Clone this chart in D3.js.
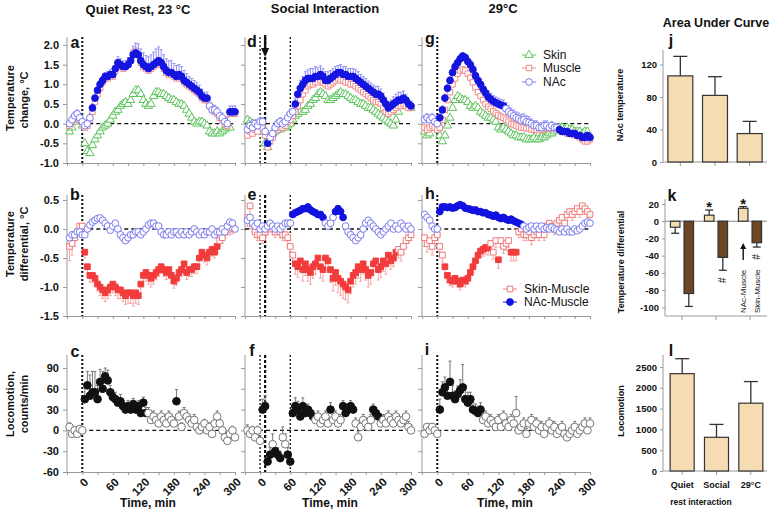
<!DOCTYPE html>
<html><head><meta charset="utf-8">
<script src="https://cdn.jsdelivr.net/npm/d3@7"></script>
<style>body{margin:0;background:#fff}</style>
</head><body>
<script>
// ---------------- DATA ----------------
const times = [-25,-20,-15,-10,-5,0,5,10,15,20,
  25,30,35,40,45,50,55,60,65,70,
  75,80,85,90,95,100,105,110,115,120,
  125,130,135,140,145,150,155,160,165,170,
  175,180,185,190,195,200,205,210,215,220,
  225,230,235,240,245,250,255,260,265,270,
  275,280,285,290,295,300];
const timeTicks = [-30,0,30,60,90,120,150,180,210,240,270,300];
const timeLabels = [0,60,120,180,240,300];

// Panel a (Quiet rest) temperature change
const aSkin = [-0.2,-0.1,0.05,0.2,0.1,-0.05,-0.5,-0.7,-0.75,-0.55,
  -0.4,-0.3,-0.2,-0.1,-0.05,0.0,0.1,0.2,0.3,0.35,
  0.45,0.5,0.55,0.5,0.6,0.75,0.85,0.85,0.75,0.6,
  0.5,0.45,0.5,0.7,0.8,0.8,0.75,0.75,0.7,0.65,
  0.6,0.6,0.55,0.5,0.5,0.45,0.35,0.25,0.15,0.05,
  0.0,0.05,0.05,0.0,-0.05,-0.2,-0.25,-0.25,-0.2,-0.25,
  -0.2,-0.15,-0.1,-0.1,null,null];
const aMuscle = [-0.05,0.05,0.15,0.2,0.1,0.0,-0.1,-0.05,0.1,0.3,
  0.55,0.75,0.9,1.05,1.15,1.15,1.2,1.2,1.35,1.5,
  1.45,1.4,1.45,1.5,1.6,1.8,1.85,1.75,1.55,1.45,
  1.4,1.35,1.4,1.45,1.5,1.55,1.5,1.4,1.3,1.25,
  1.25,1.2,1.15,1.2,1.15,1.05,1.0,0.95,0.9,0.85,
  0.8,0.75,0.65,0.6,0.6,0.45,0.35,0.3,0.25,0.15,
  0.1,0.0,-0.05,0.25,0.25,0.25];
const aNAc = [0.0,0.1,0.2,0.25,0.15,0.05,-0.05,0.0,0.15,0.4,
  0.65,0.85,1.0,1.1,1.2,1.2,1.25,1.25,1.4,1.55,
  1.5,1.45,1.45,1.5,1.6,1.75,1.8,1.75,1.6,1.5,
  1.45,1.4,1.45,1.5,1.55,1.6,1.55,1.45,1.35,1.3,
  1.3,1.25,1.2,1.25,1.2,1.1,1.05,1.0,0.95,0.9,
  0.85,0.8,0.7,0.65,0.65,0.45,0.35,0.35,0.3,0.2,
  0.15,0.05,0.0,0.3,0.3,0.3];
const aNAcErr = [0.1,0.1,0.1,0.1,0.1,0.1,0.1,0.1,0.1,0.1,
  0.1,0.1,0.1,0.1,0.1,0.12,0.12,0.15,0.15,0.15,
  0.15,0.15,0.15,0.18,0.2,0.22,0.25,0.28,0.3,0.3,
  0.28,0.3,0.3,0.32,0.35,0.35,0.33,0.3,0.3,0.3,
  0.3,0.28,0.28,0.25,0.25,0.25,0.22,0.2,0.2,0.2,
  0.2,0.18,0.18,0.15,0.15,0.15,0.12,0.12,0.12,0.12,
  0.12,0.12,0.15,0.15,0.15,0.15];
const aNAcSig = [[20,245],[290,300]];

// Panel d (Social interaction) temperature change
const dSkin = [0.1,0.05,0.0,-0.05,0.0,0.05,-0.2,-0.5,-0.6,-0.35,
  -0.25,-0.2,-0.15,-0.15,-0.1,-0.1,-0.05,0.0,0.1,0.2,
  0.25,0.3,0.3,0.35,0.45,0.5,0.6,0.65,0.75,0.8,
  0.75,0.7,0.6,0.6,0.65,0.7,0.75,0.8,0.75,0.75,
  0.7,0.65,0.6,0.6,0.55,0.5,0.5,0.45,0.4,0.4,
  0.35,0.3,0.25,0.2,0.15,0.1,0.05,0.0,-0.05,0.1,
  0.3,0.45,0.5,0.55,0.45,0.4];
const dMuscle = [-0.3,-0.2,-0.25,-0.15,-0.2,-0.05,-0.1,-0.3,-0.6,-0.45,
  -0.35,-0.2,-0.15,-0.1,-0.1,-0.05,0.05,0.1,0.2,0.3,
  0.45,0.6,0.75,0.85,0.95,1.0,1.0,1.05,1.05,1.1,
  1.05,1.0,0.95,1.0,1.05,1.1,1.15,1.1,1.1,1.05,
  1.05,1.0,1.0,0.95,0.9,0.85,0.8,0.75,0.7,0.65,
  0.6,0.55,0.55,0.5,0.4,0.3,0.25,0.3,0.35,0.4,
  0.45,0.45,0.5,0.45,0.4,0.4];
const dNAc = [-0.15,-0.05,-0.1,0.0,-0.05,0.05,0.05,-0.2,-0.5,-0.35,
  -0.25,-0.1,0.0,0.05,0.0,0.05,0.15,0.25,0.3,0.5,
  0.75,0.9,1.0,1.1,1.15,1.15,1.15,1.2,1.2,1.25,
  1.2,1.1,1.1,1.15,1.2,1.25,1.3,1.3,1.25,1.25,
  1.2,1.2,1.2,1.15,1.1,1.05,1.0,0.95,0.9,0.85,
  0.8,0.75,0.75,0.7,0.6,0.5,0.4,0.45,0.5,0.55,
  0.6,0.6,0.65,0.6,0.5,0.45];
const dNAcErr = [0.12,0.12,0.12,0.1,0.1,0.1,0.1,0.12,0.12,0.12,
  0.12,0.12,0.1,0.1,0.1,0.1,0.12,0.12,0.15,0.15,
  0.18,0.2,0.2,0.22,0.22,0.25,0.25,0.25,0.22,0.22,
  0.2,0.22,0.22,0.2,0.2,0.2,0.18,0.2,0.2,0.2,
  0.2,0.2,0.2,0.22,0.22,0.2,0.2,0.2,0.18,0.18,
  0.18,0.2,0.2,0.18,0.18,0.15,0.15,0.15,0.18,0.2,
  0.2,0.2,0.18,0.15,0.12,0.12];
const dNAcSig = [[15,15],[70,300]];

// Panel g (29°C) temperature change
const gSkin = [-0.2,-0.3,-0.25,-0.05,-0.05,-0.1,-0.3,-0.45,-0.3,-0.05,
  0.15,0.4,0.6,0.7,0.65,0.6,0.6,0.55,0.45,0.4,
  0.45,0.4,0.3,0.25,0.2,0.15,0.15,0.1,0.05,-0.1,
  -0.15,-0.1,-0.15,-0.2,-0.25,-0.3,-0.3,-0.35,-0.35,-0.35,
  -0.4,-0.4,-0.4,-0.35,-0.4,-0.4,-0.35,-0.35,-0.3,-0.25,
  -0.25,-0.2,-0.15,-0.1,-0.1,-0.15,-0.1,-0.15,-0.15,-0.2,
  -0.2,-0.2,-0.25,-0.2,-0.2,null];
const gMuscle = [-0.1,-0.15,-0.1,-0.05,-0.1,-0.15,-0.1,0.1,0.35,0.6,
  0.8,1.0,1.15,1.27,1.35,1.38,1.35,1.27,1.17,1.05,
  0.92,0.8,0.7,0.6,0.5,0.43,0.38,0.32,0.27,0.22,
  0.18,0.15,0.1,0.05,0.0,-0.02,-0.05,-0.07,-0.1,-0.1,
  -0.12,-0.12,-0.15,-0.15,-0.15,-0.17,-0.15,-0.12,-0.1,-0.12,
  -0.1,-0.12,-0.15,-0.15,-0.2,-0.2,-0.25,-0.25,-0.25,-0.3,
  -0.3,-0.35,-0.4,-0.45,-0.45,-0.4];
const gNAc = [0.1,0.15,0.1,0.15,0.05,0.0,0.15,0.35,0.65,0.9,
  1.1,1.3,1.45,1.55,1.65,1.72,1.68,1.58,1.5,1.38,
  1.22,1.1,1.0,0.88,0.78,0.68,0.62,0.57,0.53,0.5,
  0.47,0.45,0.38,0.3,0.25,0.2,0.15,0.12,0.08,0.1,
  0.05,0.03,0.0,-0.05,-0.05,-0.1,-0.1,-0.05,-0.05,-0.1,
  -0.05,-0.1,-0.1,-0.15,-0.2,-0.2,-0.2,-0.25,-0.25,-0.25,
  -0.3,-0.3,-0.35,-0.35,-0.3,-0.35];
const gNAcErr = [0.1,0.1,0.1,0.1,0.1,0.1,0.1,0.1,0.1,0.1,
  0.1,0.1,0.1,0.1,0.08,0.08,0.08,0.1,0.1,0.1,
  0.1,0.12,0.12,0.12,0.12,0.15,0.15,0.15,0.15,0.15,
  0.15,0.15,0.15,0.15,0.15,0.15,0.15,0.15,0.15,0.15,
  0.15,0.15,0.12,0.12,0.12,0.12,0.12,0.12,0.12,0.1,
  0.1,0.1,0.1,0.08,0.08,0.08,0.08,0.08,0.08,0.08,
  0.08,0.08,0.08,0.08,0.08,0.08];
const gNAcSig = [[5,130],[240,300]];

// Panel b temperature differentials
const bSkinMuscle = [-0.3,-0.25,-0.15,-0.05,0.05,0.05,-0.4,-0.65,-0.8,-0.8,
  -0.85,-0.95,-1.0,-1.05,-1.1,-1.05,-1.0,-0.95,-1.0,-1.05,
  -1.05,-1.1,-1.15,-1.1,-1.1,-1.15,-1.1,-1.15,-0.95,-0.8,
  -0.75,-0.8,-0.85,-0.8,-0.75,-0.7,-0.65,-0.7,-0.75,-0.7,
  -0.8,-0.9,-0.85,-0.75,-0.7,-0.6,-0.75,-0.7,-0.7,-0.65,
  -0.65,-0.5,-0.4,-0.45,-0.5,-0.4,-0.35,-0.4,-0.3,-0.2,
  -0.15,-0.05,0.0,0.0,0.02,null];
const bSkinMuscleErr = [0.25,0.2,0.15,0.1,0.1,0.1,0.1,0.12,0.12,0.12,
  0.12,0.12,0.15,0.15,0.15,0.15,0.15,0.15,0.15,0.15,
  0.15,0.15,0.15,0.18,0.18,0.18,0.18,0.15,0.15,0.15,
  0.15,0.15,0.15,0.15,0.12,0.12,0.12,0.12,0.12,0.12,
  0.12,0.12,0.12,0.12,0.12,0.12,0.12,0.12,0.12,0.12,
  0.12,0.12,0.12,0.12,0.12,0.12,0.12,0.1,0.1,0.1,
  0.1,0.1,0.1,0.1,0.1,0];
const bNAcMuscle = [-0.15,-0.1,-0.1,-0.05,-0.05,-0.1,-0.1,0.0,0.07,0.12,
  0.15,0.18,0.19,0.15,0.1,0.05,-0.02,0.05,0.1,0.0,
  -0.1,-0.15,-0.2,-0.15,-0.1,-0.1,-0.05,-0.05,-0.1,-0.05,
  0.0,0.07,0.1,0.1,0.05,0.05,-0.05,-0.1,-0.1,-0.05,
  -0.1,-0.05,-0.05,-0.1,-0.05,-0.1,-0.05,-0.1,-0.05,0.0,
  -0.05,-0.1,-0.05,-0.1,-0.05,-0.05,0.0,-0.1,-0.05,-0.05,
  0.0,-0.05,0.05,0.12,0.1,0.0];
const bSkinMuscleSig = [[5,265]];
const bNAcMuscleSig = [];

// Panel e
const eSkinMuscle = [0.2,0.4,0.05,-0.05,-0.1,-0.1,-0.15,-0.05,0.0,0.05,
  0.0,-0.05,0.0,-0.05,-0.1,-0.1,-0.15,-0.3,-0.45,-0.6,
  -0.65,-0.55,-0.7,-0.6,-0.7,-0.75,-0.65,-0.6,-0.5,-0.65,
  -0.7,-0.5,-0.55,-0.7,-0.85,-0.75,-0.85,-0.9,-0.95,-1.0,
  -1.05,-0.9,-0.8,-0.75,-0.65,-0.7,-0.6,-0.7,-0.8,-0.75,
  -0.6,-0.55,-0.7,-0.65,-0.55,-0.6,-0.45,-0.55,-0.5,-0.4,
  -0.35,-0.4,-0.3,-0.2,-0.15,-0.1];
const eSkinMuscleErr = [0.15,0.15,0.1,0.1,0.1,0.1,0.1,0.1,0.1,0.1,
  0.1,0.1,0.1,0.1,0.1,0.1,0.12,0.15,0.15,0.18,
  0.18,0.18,0.2,0.2,0.2,0.2,0.2,0.18,0.18,0.2,
  0.2,0.2,0.2,0.22,0.22,0.22,0.25,0.25,0.25,0.22,
  0.22,0.22,0.2,0.2,0.2,0.2,0.18,0.18,0.2,0.2,
  0.2,0.18,0.18,0.18,0.18,0.18,0.15,0.15,0.15,0.15,
  0.15,0.15,0.12,0.12,0.1,0.1];
const eNAcMuscle = [0.15,0.2,0.1,0.05,0.1,0.0,0.05,0.0,0.05,0.1,
  0.05,0.0,0.05,0.0,0.05,0.1,0.1,0.1,0.25,0.28,
  0.3,0.32,0.35,0.35,0.38,0.33,0.3,0.28,0.25,0.25,
  0.2,0.1,0.05,0.1,0.2,0.3,0.35,0.3,0.2,0.05,
  -0.05,-0.1,-0.15,-0.2,-0.15,-0.1,0.0,0.1,0.15,0.1,
  0.05,0.0,-0.05,-0.1,-0.05,0.0,0.05,0.1,0.0,0.05,
  0.0,0.1,0.05,0.0,0.05,0.0];
const eSkinMuscleSig = [[70,270]];
const eNAcMuscleSig = [[65,125],[150,165]];

// Panel h
const hSkinMuscle = [-0.15,-0.25,-0.2,-0.3,-0.15,-0.1,-0.3,-0.45,-0.65,-0.8,
  -0.88,-0.9,-0.85,-0.9,-0.95,-0.88,-0.9,-0.85,-0.75,-0.65,
  -0.55,-0.45,-0.38,-0.35,-0.32,-0.33,-0.25,-0.4,-0.2,-0.53,
  -0.2,-0.3,-0.25,-0.2,-0.4,-0.4,-0.4,-0.05,0.0,-0.1,
  -0.1,-0.05,-0.15,-0.1,-0.05,-0.1,0.0,-0.1,0.05,0.1,
  0.05,0.0,0.1,0.15,0.2,0.1,0.25,0.3,0.25,0.3,
  0.35,0.3,0.4,0.35,0.3,0.25];
const hSkinMuscleErr = [0.15,0.15,0.15,0.15,0.15,0.1,0.1,0.12,0.12,0.12,
  0.1,0.1,0.1,0.1,0.1,0.1,0.1,0.1,0.1,0.1,
  0.1,0.12,0.12,0.12,0.12,0.12,0.12,0.12,0.12,0.15,
  0.12,0.12,0.12,0.12,0.15,0.15,0.15,0.1,0.1,0.1,
  0.1,0.1,0.12,0.1,0.1,0.1,0.1,0.1,0.1,0.1,
  0.1,0.1,0.1,0.1,0.1,0.1,0.1,0.1,0.1,0.1,
  0.1,0.1,0.1,0.1,0.1,0.1];
const hNAcMuscle = [0.25,0.2,0.15,0.05,0.0,0.0,0.3,0.38,0.38,0.37,
  0.38,0.36,0.37,0.4,0.42,0.4,0.36,0.35,0.34,0.32,
  0.33,0.3,0.3,0.28,0.28,0.25,0.24,0.22,0.24,0.2,
  0.18,0.2,0.17,0.15,0.17,0.14,0.12,0.1,0.08,0.05,
  0.0,0.03,0.05,0.0,0.05,0.0,0.05,0.0,0.02,0.0,
  0.03,0.0,-0.02,-0.05,0.0,-0.05,0.0,-0.05,-0.05,0.0,
  -0.03,0.0,0.05,0.1,0.12,0.1];
const hSkinMuscleSig = [[15,100],[120,120],[145,155]];
const hNAcMuscleSig = [[5,165]];

// Locomotion (counts/min)
const cLoco = [5,-5,0,-5,2,0,45,65,50,55,
  55,45,70,60,78,72,55,48,45,40,
  42,35,30,35,30,38,30,35,25,40,
  25,25,15,20,15,10,20,15,10,20,
  15,10,42,20,5,25,20,15,10,15,
  5,0,5,10,0,5,-5,10,20,10,
  0,-10,-15,-5,0,-10];
const cLocoErr = [6,5,5,5,5,5,20,20,30,30,
  30,20,18,25,12,15,10,10,10,8,
  10,8,8,8,8,8,8,8,8,8,
  8,8,8,8,8,8,8,8,8,8,
  8,8,17,8,6,8,8,8,8,8,
  6,6,6,6,6,6,6,6,8,6,
  6,6,6,6,6,6];
const cLocoSig = [[5,125],[185,185]];

const fLoco = [0,-5,0,-10,0,-15,30,35,-45,-35,
  -20,-30,-35,-40,-10,-20,-35,-45,25,35,
  30,20,35,25,30,25,20,15,20,10,
  15,20,10,30,15,20,10,15,35,25,
  30,35,30,10,-10,5,15,10,5,15,
  30,25,20,10,15,10,20,15,10,20,
  15,10,15,20,5,0];
const fLocoErr = [8,6,6,6,6,8,15,15,10,10,
  15,10,10,10,15,15,10,10,10,12,
  12,10,12,8,8,8,8,8,8,8,
  8,8,8,10,8,8,8,8,8,8,
  8,8,8,8,8,8,8,8,8,8,
  8,8,8,8,8,8,8,8,8,8,
  8,8,8,8,8,8];
const fLocoSig = [[5,20],[30,40],[55,105],[140,140],[165,185],[225,235]];

const iLoco = [-5,5,0,5,0,-5,30,55,62,50,
  70,50,45,52,58,62,45,40,45,30,
  28,25,30,15,20,10,15,10,5,15,
  5,20,10,5,15,10,25,0,5,10,
  -5,10,15,5,10,0,5,-5,5,10,
  0,5,-5,0,5,-5,-10,-5,0,5,
  -5,0,5,10,0,10];
const iLocoErr = [5,5,5,5,5,5,15,15,15,12,
  30,15,12,12,15,33,20,15,10,10,
  10,10,10,8,8,8,8,8,8,8,
  8,8,8,8,8,8,24,8,8,8,
  8,8,8,10,8,8,8,8,8,8,
  8,8,8,8,8,8,8,8,8,8,
  8,8,8,8,8,8];
const iLocoSig = [[5,85]];

// Area under curve bar panels
const barCats = ["Quiet","Social","29°C"];
const aucNAc = [106, 82, 35];
const aucNAcSem = [24, 23, 15];
const diffNAcMuscle = [-7, 7, 15];
const diffNAcMuscleSem = [7, 6, 2];
const diffSkinMuscle = [-84, -42, -25];
const diffSkinMuscleSem = [15, 15, 5];
const aucLoco = [2340, 810, 1630];
const aucLocoSem = [360, 310, 520];

// ---------------- DRAWING ----------------
const FONT = '"Liberation Sans", Arial, sans-serif';
const AX = '#9a9a9a';
const svg = d3.select('body').append('svg').attr('width',770).attr('height',521)
  .style('font-family', FONT);

const colRanges = [[67,235],[245,411],[422,590]];
const xS = colRanges.map(r => d3.scaleLinear().domain([-30,300]).range(r));
const rows = [
  {y: d3.scaleLinear().domain([-1,2]).range([163,45]), top:37, ticks:[-1,-0.5,0,0.5,1,1.5,2], fmt:d=>d.toFixed(1)},
  {y: d3.scaleLinear().domain([-1.5,0.5]).range([316,200]), top:195, ticks:[-1.5,-1,-0.5,0,0.5], fmt:d=>d.toFixed(1)},
  {y: d3.scaleLinear().domain([-60,90]).range([472,368]), top:355, ticks:[-60,-30,0,30,60,90], fmt:d=>String(d)}
];

const inR = (t, rs) => rs.some(r => t >= r[0] && t <= r[1]);
const sym = (type, size) => d3.symbol().type(type).size(size)();

function drawAxes(c, r) {
  const x = xS[c], R = rows[r], y = R.y;
  const x0 = x.range()[0], yb = y.range()[0];
  const g = svg.append('g');
  const ay = g.append('g').attr('transform', `translate(${x0},0)`)
    .call(d3.axisLeft(y).tickValues(R.ticks).tickSize(4).tickPadding(4)
      .tickFormat(c === 0 ? R.fmt : () => ''));
  ay.select('.domain').remove();
  ay.attr('font-family', FONT).attr('font-size', 11);
  ay.selectAll('line').attr('stroke', AX);
  ay.selectAll('text').attr('font-weight', 'bold').attr('fill', '#111');
  g.append('line').attr('x1', x0).attr('x2', x0).attr('y1', R.top).attr('y2', yb).attr('stroke', AX);
  const ax = g.append('g').attr('transform', `translate(0,${yb})`)
    .call(d3.axisBottom(x).tickValues(timeTicks).tickSize(3).tickSizeOuter(0).tickFormat(''));
  ax.select('.domain').attr('stroke', AX);
  ax.selectAll('line').attr('stroke', AX);
  if (r === 2) {
    g.selectAll(null).data(timeLabels).join('text')
      .attr('transform', d => `translate(${x(d) + 4},${yb + 8}) rotate(-45)`)
      .attr('text-anchor', 'end').attr('dy', '0.35em')
      .attr('font-size', 11.5).attr('font-weight', 'bold').attr('fill', '#111')
      .text(d => d);
  }
}

function zeroLine(c, r, from) {
  const x = xS[c], y = rows[r].y;
  svg.append('line').attr('x1', x(from)).attr('x2', x(300)).attr('y1', y(0)).attr('y2', y(0))
    .attr('stroke', '#111').attr('stroke-width', 1.3).attr('stroke-dasharray', '4,3');
}
function vLine(c, r, t, w, dash) {
  const x = xS[c], R = rows[r];
  svg.append('line').attr('x1', x(t)).attr('x2', x(t)).attr('y1', R.top).attr('y2', R.y.range()[0])
    .attr('stroke', '#111').attr('stroke-width', w).attr('stroke-dasharray', dash);
}
function errBars(c, r, vals, errs, dir, color) {
  const x = xS[c], y = rows[r].y;
  const data = times.map((t, i) => ({t, v: vals[i], e: errs[i]})).filter(d => d.v != null && d.e);
  const g = svg.append('g').attr('stroke', color).attr('stroke-width', 1);
  g.selectAll(null).data(data).join('path')
    .attr('d', d => {
      const xx = x(d.t), y1 = y(d.v), y2 = y(d.v + dir * d.e);
      return `M${xx},${y1}V${y2}M${xx - 1.5},${y2}H${xx + 1.5}`;
    }).attr('fill', 'none');
}
function markers(c, r, vals, sig, st) {
  const x = xS[c], y = rows[r].y;
  const data = times.map((t, i) => ({t, v: vals[i]})).filter(d => d.v != null);
  svg.append('g').selectAll(null).data(data).join('path')
    .attr('transform', d => `translate(${x(d.t)},${y(d.v)})`)
    .attr('d', sym(st.type, st.size))
    .attr('fill', d => inR(d.t, sig) ? st.fillOn : st.fillOff)
    .attr('stroke', d => inR(d.t, sig) ? st.strokeOn : st.strokeOff)
    .attr('stroke-width', st.sw || 1);
}

const stSkin = {type: d3.symbolTriangle, size: 30, fillOn: '#fff', fillOff: '#fff', strokeOn: '#5cc45c', strokeOff: '#5cc45c'};
const stMuscle = {type: d3.symbolSquare, size: 30, fillOn: '#fff', fillOff: '#fff', strokeOn: '#f08a8a', strokeOff: '#f08a8a'};
const stNAc = {type: d3.symbolCircle, size: 36, fillOn: '#1515e0', fillOff: '#fff', strokeOn: '#1515e0', strokeOff: '#7b7bef'};
const stSM = {type: d3.symbolSquare, size: 32, fillOn: '#f23c3c', fillOff: '#fff', strokeOn: '#f23c3c', strokeOff: '#f07a7a'};
const stNM = {type: d3.symbolCircle, size: 36, fillOn: '#1212e0', fillOff: '#fff', strokeOn: '#1212e0', strokeOff: '#7b7bef'};
const stLoco = {type: d3.symbolCircle, size: 46, fillOn: '#111', fillOff: '#fff', strokeOn: '#111', strokeOff: '#777'};

for (let c = 0; c < 3; c++) for (let r = 0; r < 3; r++) drawAxes(c, r);

// zero lines
[0,1,2].forEach(r => { zeroLine(0, r, 0); zeroLine(1, r, -30); zeroLine(2, r, 0); });
// event lines
[0,1,2].forEach(r => {
  vLine(0, r, 0, 2, '2,2');
  vLine(1, r, 0, 1.3, '2,2');
  vLine(1, r, 10, 2.2, '3,2');
  vLine(1, r, 60, 1.3, '2,2');
  vLine(2, r, 0, 2, '2,2');
});

// Row 1: temperature change
const tempSets = [
  [aSkin, aMuscle, aNAc, aNAcErr, aNAcSig],
  [dSkin, dMuscle, dNAc, dNAcErr, dNAcSig],
  [gSkin, gMuscle, gNAc, gNAcErr, gNAcSig]
];
tempSets.forEach((s, c) => {
  markers(c, 0, s[0], [], stSkin);
  markers(c, 0, s[1], [], stMuscle);
  errBars(c, 0, s[2], s[3], 1, '#8f8ff5');
  markers(c, 0, s[2], s[4], stNAc);
});

// Row 2: differentials
const diffSets = [
  [bSkinMuscle, bSkinMuscleErr, bSkinMuscleSig, bNAcMuscle, bNAcMuscleSig],
  [eSkinMuscle, eSkinMuscleErr, eSkinMuscleSig, eNAcMuscle, eNAcMuscleSig],
  [hSkinMuscle, hSkinMuscleErr, hSkinMuscleSig, hNAcMuscle, hNAcMuscleSig]
];
diffSets.forEach((s, c) => {
  errBars(c, 1, s[0], s[1], -1, '#f5a5a5');
  markers(c, 1, s[0], s[2], stSM);
  markers(c, 1, s[3], s[4], stNM);
});

// Row 3: locomotion
const locoSets = [[cLoco, cLocoErr, cLocoSig], [fLoco, fLocoErr, fLocoSig], [iLoco, iLocoErr, iLocoSig]];
locoSets.forEach((s, c) => {
  errBars(c, 2, s[0], s[1], 1, '#777');
  markers(c, 2, s[0], s[2], stLoco);
});

// arrow in d
{
  const xx = xS[1](10);
  svg.append('line').attr('x1', xx).attr('x2', xx).attr('y1', 35).attr('y2', 49).attr('stroke', '#111').attr('stroke-width', 2.4);
  svg.append('path').attr('d', `M${xx - 4},48L${xx + 4},48L${xx},57Z`).attr('fill', '#111');
}

// Titles
const txt = (x, y, s, size, weight, anchor = 'middle') => svg.append('text')
  .attr('x', x).attr('y', y).attr('font-size', size).attr('font-weight', weight)
  .attr('text-anchor', anchor).attr('fill', '#111').text(s);
txt(138, 14, 'Quiet Rest, 23 °C', 13, 'bold');
txt(325, 13, 'Social Interaction', 13, 'bold');
txt(503, 13, '29°C', 13, 'bold');
txt(716, 27, 'Area Under Curve', 12.5, 'bold');

// panel letters
[['a',75,48],['d',252,47],['g',430,44],['j',671,46],
 ['b',75,200],['e',252,200],['h',430,199],['k',672,201],
 ['c',75,357],['f',252,356],['i',427,355],['l',671,356]].forEach(l => txt(l[1], l[2], l[0], 16, 'bold'));

// y titles (left)
function vtxt(x, y, s, size, weight) {
  svg.append('text').attr('transform', `translate(${x},${y}) rotate(-90)`)
    .attr('text-anchor', 'middle').attr('font-size', size).attr('font-weight', weight)
    .attr('fill', '#111').text(s);
}
vtxt(14, 98, 'Temperature', 11, 'bold');
vtxt(28, 100, 'change, °C', 11, 'bold');
vtxt(14, 244, 'Temperature', 11, 'bold');
vtxt(28, 244, 'differential,  °C', 11, 'bold');
vtxt(14, 404, 'Locomotion,', 11, 'bold');
vtxt(28, 404, 'counts/min', 11, 'bold');
vtxt(623, 105, 'NAc temperature', 9, 'bold');
vtxt(624, 262, 'Temperature differential', 9, 'bold');
vtxt(624, 411, 'Locomotion', 9, 'bold');

// Time, min
[148, 330, 505].forEach(x => txt(x, 507, 'Time, min', 12, 'bold'));

// legends
function legendItem(x, y, st, filled, label) {
  svg.append('line').attr('x1', x - 7).attr('x2', x + 7).attr('y1', y).attr('y2', y)
    .attr('stroke', filled ? st.strokeOn : st.strokeOff).attr('stroke-width', 1);
  svg.append('path').attr('transform', `translate(${x},${y})`).attr('d', sym(st.type, st.size))
    .attr('fill', filled ? st.fillOn : st.fillOff).attr('stroke', filled ? st.strokeOn : st.strokeOff);
  svg.append('text').attr('x', x + 14).attr('y', y).attr('dy', '0.35em').attr('font-size', 12)
    .attr('fill', '#111').text(label);
}
legendItem(529, 55, stSkin, false, 'Skin');
legendItem(529, 68, stMuscle, false, 'Muscle');
legendItem(529, 82, stNAc, false, 'NAc');
legendItem(510, 289, stSM, false, 'Skin-Muscle');
legendItem(510, 302, stNM, true, 'NAc-Muscle');

// ---------- Bar panels ----------
const LIGHT = '#f5dcb3', DARK = '#6e4623';
function barAxes(x0, x1, y, top, ticks, band, yBottom) {
  const g = svg.append('g');
  const yb = yBottom != null ? yBottom : y.range()[0];
  const ay = g.append('g').attr('transform', `translate(${x0},0)`)
    .call(d3.axisLeft(y).tickValues(ticks).tickSize(3).tickPadding(3).tickFormat(d => String(d)));
  ay.select('.domain').remove();
  ay.attr('font-family', FONT).attr('font-size', 9.5);
  ay.selectAll('line').attr('stroke', AX);
  ay.selectAll('text').attr('font-weight', 'bold').attr('fill', '#111');
  g.append('line').attr('x1', x0).attr('x2', x0).attr('y1', top).attr('y2', yb).attr('stroke', AX);
  g.append('line').attr('x1', x0).attr('x2', x1).attr('y1', yb).attr('y2', yb).attr('stroke', AX);
  barCats.forEach(cat => {
    const cx = band(cat) + band.bandwidth() / 2;
    g.append('line').attr('x1', cx).attr('x2', cx).attr('y1', yb).attr('y2', yb + 4).attr('stroke', AX);
  });
}
function bar(x, w, y, v, sem, fill, cap) {
  const y0 = y(0), y1 = y(v), ye = y(v + Math.sign(v) * sem);
  svg.append('line').attr('x1', x + w / 2).attr('x2', x + w / 2).attr('y1', y1).attr('y2', ye).attr('stroke', '#333').attr('stroke-width', 1.3);
  svg.append('line').attr('x1', x + w / 2 - cap / 2).attr('x2', x + w / 2 + cap / 2).attr('y1', ye).attr('y2', ye).attr('stroke', '#333').attr('stroke-width', 1.3);
  svg.append('rect').attr('x', x).attr('width', w).attr('y', Math.min(y0, y1)).attr('height', Math.abs(y1 - y0))
    .attr('fill', fill).attr('stroke', '#333').attr('stroke-width', 1.2);
}

// j
const bandJ = d3.scaleBand().domain(barCats).range([663, 767]).paddingInner(0.28).paddingOuter(0.14);
const yJ = d3.scaleLinear().domain([0, 120]).range([162, 64.5]);
barAxes(663, 767, yJ, 50, [0, 40, 80, 120], bandJ);
barCats.forEach((cat, i) => bar(bandJ(cat), bandJ.bandwidth(), yJ, aucNAc[i], aucNAcSem[i], LIGHT, 14));

// k
const bandK = d3.scaleBand().domain(barCats).range([665, 767]).paddingInner(0.0).paddingOuter(0.0);
const subK = d3.scaleBand().domain(['nm', 'sm']).range([0, bandK.bandwidth()]).paddingInner(0.3).paddingOuter(0.4);
const yK = d3.scaleLinear().domain([-100, 20]).range([307.3, 204]);
barAxes(665, 767, yK, 199, [-100, -80, -60, -40, -20, 0, 20], bandK, 316);
svg.append('line').attr('x1', 665).attr('x2', 767).attr('y1', yK(0)).attr('y2', yK(0)).attr('stroke', '#8a8a8a');
barCats.forEach((cat, i) => {
  bar(bandK(cat) + subK('nm'), subK.bandwidth(), yK, diffNAcMuscle[i], diffNAcMuscleSem[i], LIGHT, 8);
  bar(bandK(cat) + subK('sm'), subK.bandwidth(), yK, diffSkinMuscle[i], diffSkinMuscleSem[i], DARK, 8);
});
{
  const star = (cat, i) => {
    const cx = bandK(cat) + subK('nm') + subK.bandwidth() / 2;
    txt(cx, yK(diffNAcMuscle[i] + diffNAcMuscleSem[i]) + 2, '*', 15, 'bold');
  };
  star(barCats[1], 1); star(barCats[2], 2);
  const hash = (cat, i) => {
    const cx = bandK(cat) + subK('sm') + subK.bandwidth() / 2;
    const yy = yK(diffSkinMuscle[i] - diffSkinMuscleSem[i]) + 10;
    svg.append('text').attr('transform', `translate(${cx + 3},${yy}) rotate(-90)`).attr('text-anchor', 'middle')
      .attr('font-size', 10).attr('fill', '#111').text('#');
  };
  hash(barCats[1], 1); hash(barCats[2], 2);
  const cx3 = bandK(barCats[2]) + subK('nm') + subK.bandwidth() / 2;
  svg.append('line').attr('x1', cx3).attr('x2', cx3).attr('y1', 260).attr('y2', 248).attr('stroke', '#111').attr('stroke-width', 1.4);
  svg.append('path').attr('d', `M${cx3 - 3},249L${cx3 + 3},249L${cx3},243Z`).attr('fill', '#111');
  const lab = (x, s) => svg.append('text').attr('transform', `translate(${x},313) rotate(-90)`)
    .attr('font-size', 8).attr('fill', '#111').text(s);
  lab(cx3 + 3, 'NAc-Muscle');
  lab(bandK(barCats[2]) + subK('sm') + subK.bandwidth() / 2 + 3, 'Skin-Muscle');
}

// l
const bandL = d3.scaleBand().domain(barCats).range([665, 768]).paddingInner(0.3).paddingOuter(0.15);
const yL = d3.scaleLinear().domain([0, 2500]).range([471, 367]);
barAxes(663, 767, yL, 355, [0, 500, 1000, 1500, 2000, 2500], bandL);
barCats.forEach((cat, i) => bar(bandL(cat), bandL.bandwidth(), yL, aucLoco[i], aucLocoSem[i], LIGHT, 14));
barCats.forEach(cat => txt(bandL(cat) + bandL.bandwidth() / 2, 488, cat, 9, 'bold'));
txt(701, 505, 'rest interaction', 8.5, 'bold');
</script>
</body></html>
